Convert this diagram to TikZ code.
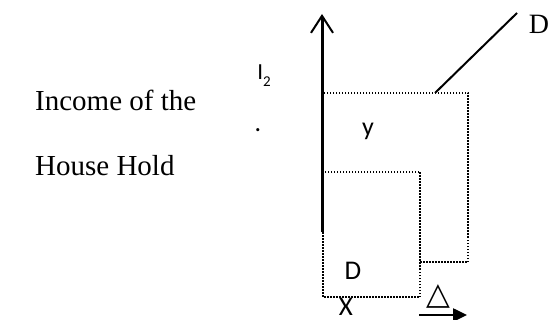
\documentclass[tikz,border=0pt]{standalone}
\usepackage{fontspec}
\setmainfont{Liberation Serif}
\newfontfamily\carl{Carlito}
\newfontfamily\dejavu{DejaVu Sans}
\usetikzlibrary{arrows.meta}
\begin{document}
\begin{tikzpicture}[x=1pt,y=-1pt,
  dotbox/.style={line width=1.6pt, dash pattern=on 1.5pt off 1.5pt},
  lbl/.style={inner sep=0pt},
  serifbig/.style={lbl, font=\fontsize{29}{29}\selectfont},
  sanslbl/.style={lbl, font=\carl\fontsize{27}{27}\selectfont}]
\useasboundingbox (0,0) rectangle (548,320);
% left text
\node[serifbig, anchor=west] (inc) at (35,100) {Income of the};
\node[serifbig, anchor=west] (hh) at (35,166) {House Hold};
% axis
\coordinate (ab) at (322,232);
\coordinate (at) at (322,14);
\draw[line width=3pt, -{Straight Barb[length=17pt,width=22pt,line width=2pt]}] (ab) -- (at);
% dotted boxes
\draw[dotbox] (323,172) rectangle (420,297);
\draw[dotbox] (420,262) -- (468,262) -- (468,93) -- (323,93) -- (323,172);
% D line
\coordinate (dl1) at (435,93);
\coordinate (dl2) at (517,13);
\draw[line width=2pt] (dl1) -- (dl2);
\node[lbl, font=\fontsize{28}{28}\selectfont] (dtop) at (539,24) {D};
% labels
\node[lbl, font=\carl\fontsize{23}{23}\selectfont] (i2) at (264,76) {I\raisebox{-0.3em}{\fontsize{15}{15}\selectfont 2}};
\node[lbl, font=\carl\fontsize{26}{26}\selectfont] (dot) at (258,130) {.};
\node[lbl, font=\carl\fontsize{26}{26}\selectfont] (yl) at (368,131) {y};
\node[sanslbl] (dl) at (353,271) {D};
\node[sanslbl] (xl) at (346,307) {X};
\node[lbl, font=\dejavu\bfseries\fontsize{31}{31}\selectfont] (delta) at (438,296) {△};
% bottom arrow
\coordinate (b1) at (419,315);
\coordinate (b2) at (467,315);
\draw[line width=2.5pt, -{Triangle[length=14pt,width=13pt]}] (b1) -- (b2);
\end{tikzpicture}
\end{document}
